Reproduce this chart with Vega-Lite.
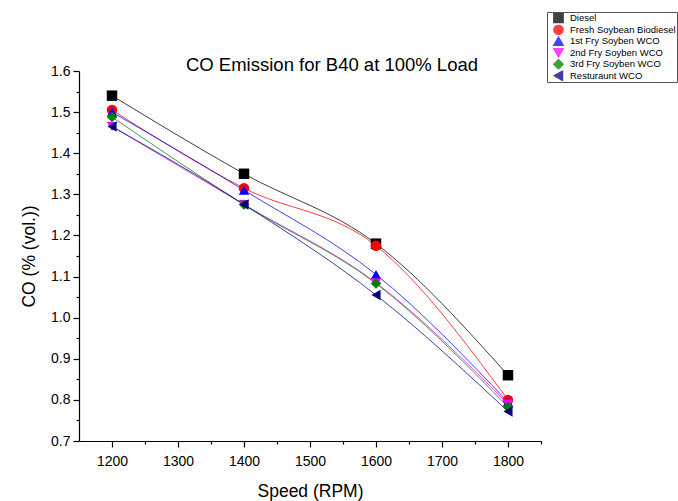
{
  "$schema": "https://vega.github.io/schema/vega-lite/v6.json",
  "width": 462,
  "height": 370,
  "autosize": {"type": "none"},
  "padding": {"left": 79, "top": 71, "right": 137, "bottom": 60},
  "background": "white",
  "config": {
    "font": "Liberation Sans",
    "view": {"stroke": null},
    "axis": {"domainColor": "black", "tickColor": "black", "labelColor": "black", "titleColor": "black", "grid": false, "labelFont": "Liberation Sans", "titleFont": "Liberation Sans", "titleFontWeight": "normal", "labelFontSize": 14, "titleFontSize": 17.5, "domainWidth": 1.2, "tickWidth": 1.2, "labelOverlap": false}
  },
  "title": {"text": "CO Emission for B40 at 100% Load", "font": "Liberation Sans", "fontSize": 18.5, "fontWeight": "normal", "color": "black", "anchor": "middle", "dx": 22, "offset": -63},
  "data": {"values": [
    {"series": "Diesel", "speed": 1200, "co": 1.54},
    {"series": "Diesel", "speed": 1400, "co": 1.35},
    {"series": "Diesel", "speed": 1600, "co": 1.18},
    {"series": "Diesel", "speed": 1800, "co": 0.86},
    {"series": "Fresh Soybean Biodiesel", "speed": 1200, "co": 1.505},
    {"series": "Fresh Soybean Biodiesel", "speed": 1400, "co": 1.315},
    {"series": "Fresh Soybean Biodiesel", "speed": 1600, "co": 1.175},
    {"series": "Fresh Soybean Biodiesel", "speed": 1800, "co": 0.80},
    {"series": "1st Fry Soyben WCO", "speed": 1200, "co": 1.50},
    {"series": "1st Fry Soyben WCO", "speed": 1400, "co": 1.31},
    {"series": "1st Fry Soyben WCO", "speed": 1600, "co": 1.105},
    {"series": "1st Fry Soyben WCO", "speed": 1800, "co": 0.795},
    {"series": "2nd Fry Soyben WCO", "speed": 1200, "co": 1.465},
    {"series": "2nd Fry Soyben WCO", "speed": 1400, "co": 1.275},
    {"series": "2nd Fry Soyben WCO", "speed": 1600, "co": 1.085},
    {"series": "2nd Fry Soyben WCO", "speed": 1800, "co": 0.79},
    {"series": "3rd Fry Soyben WCO", "speed": 1200, "co": 1.488},
    {"series": "3rd Fry Soyben WCO", "speed": 1400, "co": 1.275},
    {"series": "3rd Fry Soyben WCO", "speed": 1600, "co": 1.083},
    {"series": "3rd Fry Soyben WCO", "speed": 1800, "co": 0.783},
    {"series": "Resturaunt WCO", "speed": 1200, "co": 1.465},
    {"series": "Resturaunt WCO", "speed": 1400, "co": 1.275},
    {"series": "Resturaunt WCO", "speed": 1600, "co": 1.055},
    {"series": "Resturaunt WCO", "speed": 1800, "co": 0.772}
  ]},
  "resolve": {"axis": {"x": "independent", "y": "independent"}},
  "layer": [
    {
      "mark": {"type": "line", "interpolate": "monotone", "strokeWidth": 1, "opacity": 0.75},
      "encoding": {
        "x": {"field": "speed", "type": "quantitative", "scale": {"domain": [1150, 1850], "nice": false}, "title": "Speed (RPM)",
              "axis": {"orient": "bottom", "values": [1200, 1300, 1400, 1500, 1600, 1700, 1800], "format": "d", "tickSize": 6, "labelPadding": 7, "titlePadding": 14}},
        "y": {"field": "co", "type": "quantitative", "scale": {"domain": [0.7, 1.6], "nice": false, "zero": false}, "title": "CO (% (vol.))",
              "axis": {"orient": "left", "values": [0.7, 0.8, 0.9, 1.0, 1.1, 1.2, 1.3, 1.4, 1.5, 1.6], "format": ".1f", "tickSize": 6, "labelPadding": 3, "titlePadding": 12}},
        "color": {"field": "series", "type": "nominal", "title": null,
                  "scale": {"domain": ["Diesel", "Fresh Soybean Biodiesel", "1st Fry Soyben WCO", "2nd Fry Soyben WCO", "3rd Fry Soyben WCO", "Resturaunt WCO"],
                            "range": ["#000000", "#ff0000", "#0000ff", "#ff00ff", "#008000", "#000080"]}}
      }
    },
    {
      "mark": {"type": "point", "filled": true, "size": 110, "opacity": 1},
      "encoding": {
        "x": {"field": "speed", "type": "quantitative",
              "axis": {"orient": "bottom", "values": [1250, 1350, 1450, 1550, 1650, 1750, 1850], "tickSize": 3, "labels": false, "domain": false, "title": null}},
        "y": {"field": "co", "type": "quantitative",
              "axis": {"orient": "left", "values": [0.75, 0.85, 0.95, 1.05, 1.15, 1.25, 1.35, 1.45, 1.55], "tickSize": 3, "labels": false, "domain": false, "title": null}},
        "color": {"field": "series", "type": "nominal", "title": null,
                  "legend": {"orient": "none", "legendX": 468, "legendY": -59, "strokeColor": "#555555", "padding": 1, "labelFontSize": 9.5, "labelFont": "Liberation Sans", "labelColor": "black", "symbolSize": 85, "rowPadding": 0.5, "clipHeight": 10.5, "symbolOffset": 5, "labelOffset": 6, "symbolOpacity": 1}},
        "shape": {"field": "series", "type": "nominal", "title": null,
                  "scale": {"domain": ["Diesel", "Fresh Soybean Biodiesel", "1st Fry Soyben WCO", "2nd Fry Soyben WCO", "3rd Fry Soyben WCO", "Resturaunt WCO"],
                            "range": ["square", "circle", "triangle-up", "triangle-down", "diamond", "triangle-left"]}}
      }
    }
  ]
}
